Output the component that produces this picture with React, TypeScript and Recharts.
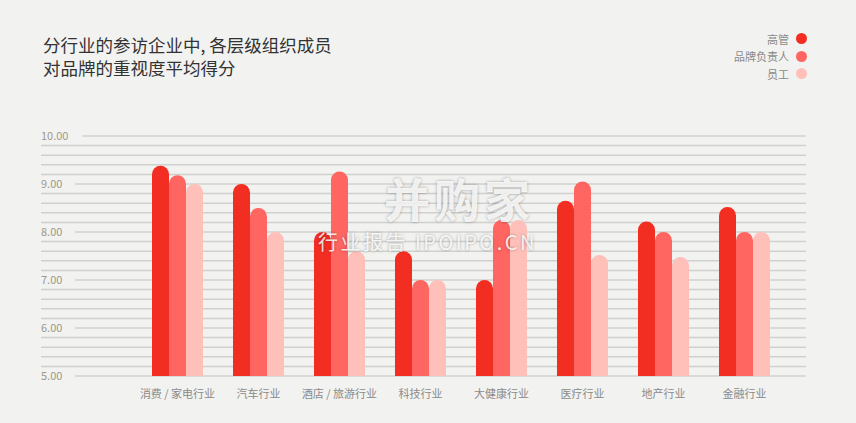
import { BarChart, Bar, XAxis, YAxis, CartesianGrid } from "recharts";

const categories = [
  "消费 / 家电行业",
  "汽车行业",
  "酒店 / 旅游行业",
  "科技行业",
  "大健康行业",
  "医疗行业",
  "地产行业",
  "金融行业",
];
const executives = [9.38, 9.0, 8.0, 7.6, 7.0, 8.65, 8.22, 8.52];
const brandOwners = [9.18, 8.5, 9.26, 7.0, 8.25, 9.05, 8.0, 8.0];
const staff = [9.0, 8.0, 7.6, 7.0, 8.25, 7.52, 7.48, 8.0];
const yTicks = [
  5, 5.2, 5.4, 5.6, 5.8, 6, 6.2, 6.4, 6.6, 6.8, 7, 7.2, 7.4, 7.6, 7.8, 8, 8.2, 8.4, 8.6, 8.8, 9,
  9.2, 9.4, 9.6, 9.8, 10,
];

const seriesNames = ["高管", "品牌负责人", "员工"];
const colors = ["#f22e23", "#ff6661", "#ffc0ba"];

const data = categories.map((name, i) => ({
  name,
  exec: executives[i],
  brand: brandOwners[i],
  staff: staff[i],
}));

const BG = "#f2f2f0";
const FONT = "'Noto Sans CJK SC', 'Noto Sans', sans-serif";

const YTick = (props: any) => {
  const { y, payload } = props;
  const v = Number(payload.value);
  if (Math.abs(v - Math.round(v)) > 1e-6) return <g />;
  const label = v.toFixed(2);
  const cover = label.length > 4 ? 42 : 35;
  return (
    <g>
      <rect x={40} y={y - 3} width={cover} height={6} fill={BG} />
      <text x={41} y={y} dy={4} fontSize={11} fill="#a09888" fontFamily={FONT}>
        {label}
      </text>
    </g>
  );
};

function ChartLegend() {
  return (
    <div style={{ position: "absolute", right: 49, top: 30, fontFamily: FONT }}>
      {seriesNames.map((n, i) => (
        <div
          key={n}
          style={{
            display: "flex",
            alignItems: "center",
            justifyContent: "flex-end",
            height: 17.5,
            fontSize: 11,
            color: "#8a8a8a",
          }}
        >
          <span>{n}</span>
          <span
            style={{
              display: "inline-block",
              width: 11,
              height: 11,
              borderRadius: "50%",
              background: colors[i],
              marginLeft: 7,
            }}
          />
        </div>
      ))}
    </div>
  );
}

export default function App() {
  return (
    <div style={{ position: "relative", width: 856, height: 423, background: BG, fontFamily: FONT }}>
      <style>{`body{margin:0}`}</style>
      <div
        style={{
          position: "absolute",
          left: 43,
          top: 33,
          fontSize: 17.5,
          lineHeight: "23px",
          color: "#333",
        }}
      >
        分行业的参访企业中, 各层级组织成员
        <br />
        对品牌的重视度平均得分
      </div>
      <ChartLegend />
      <BarChart
        width={856}
        height={423}
        data={data}
        margin={{ top: 136, right: 50, bottom: 17, left: 0 }}
        barSize={17}
        barGap={0}
      >
        <CartesianGrid vertical={false} stroke="#d0d0cd" strokeWidth={1.5} />
        <XAxis
          dataKey="name"
          height={30}
          axisLine={false}
          tickLine={false}
          padding={{ left: 96, right: 21 }}
          tick={{ fontSize: 11, fill: "#8a8a8a", fontFamily: FONT }}
          tickMargin={8}
          interval={0}
        />
        <YAxis
          width={41}
          domain={[5, 10]}
          ticks={yTicks}
          interval={0}
          axisLine={false}
          tickLine={false}
          tick={(p: any) => <YTick {...p} />}
          allowDataOverflow
        />
        <Bar dataKey="exec" name={seriesNames[0]} fill={colors[0]} radius={[8.5, 8.5, 0, 0]} isAnimationActive={false} />
        <Bar dataKey="brand" name={seriesNames[1]} fill={colors[1]} radius={[8.5, 8.5, 0, 0]} isAnimationActive={false} />
        <Bar dataKey="staff" name={seriesNames[2]} fill={colors[2]} radius={[8.5, 8.5, 0, 0]} isAnimationActive={false} />
      </BarChart>
      <div
        style={{
          position: "absolute",
          left: 384,
          top: 174,
          fontSize: 46,
          lineHeight: "46px",
          fontWeight: 700,
          letterSpacing: 4,
          color: "rgba(255,255,255,0.85)",
          textShadow: "0 0 3px rgba(0,0,0,0.35)",
          pointerEvents: "none",
        }}
      >
        并购家
      </div>
      <div
        style={{
          position: "absolute",
          left: 318,
          top: 232,
          fontSize: 20,
          lineHeight: "20px",
          letterSpacing: 2.5,
          color: "rgba(255,255,255,0.85)",
          textShadow: "0 0 3px rgba(0,0,0,0.35)",
          pointerEvents: "none",
        }}
      >
        行业报告 IPOIPO.CN
      </div>
    </div>
  );
}
